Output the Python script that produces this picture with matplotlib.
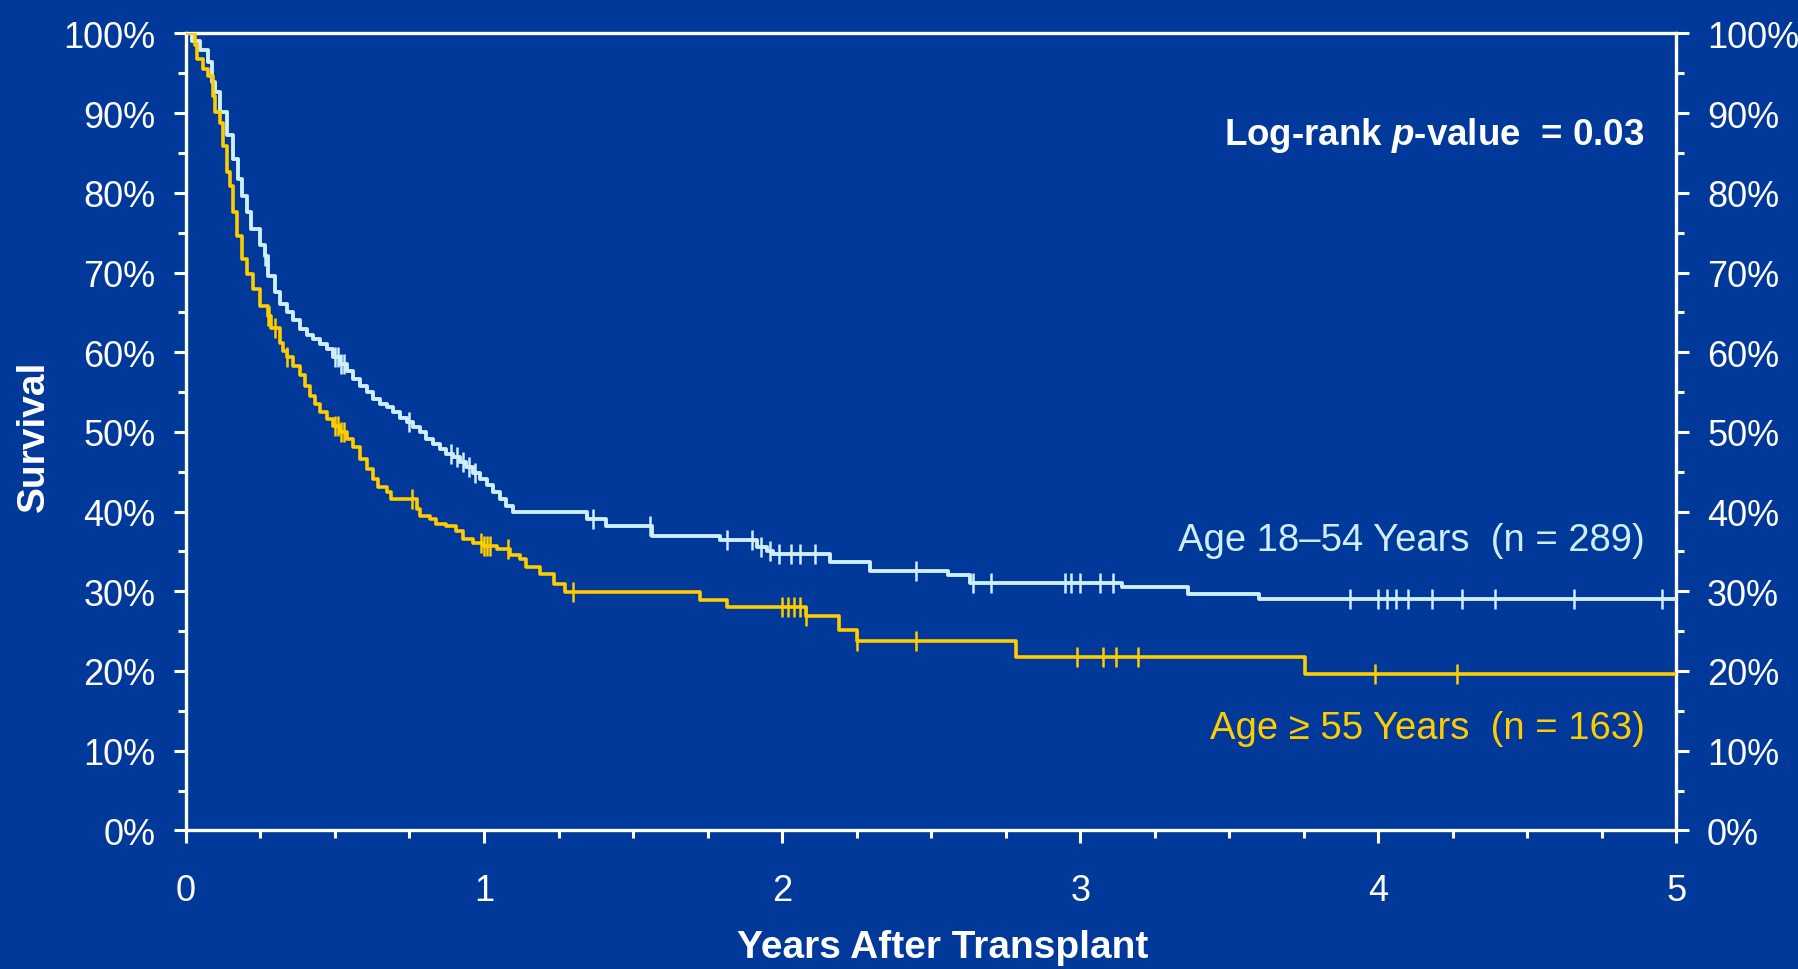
import numpy as np
import matplotlib.pyplot as plt
from matplotlib.ticker import MultipleLocator, FuncFormatter

# Kaplan-Meier survival (%) by age group: value after each drop (step "post")
young_t = [0, 0.02, 0.047, 0.075, 0.086, 0.097, 0.114, 0.137, 0.159, 0.175, 0.187,
           0.204, 0.220, 0.248, 0.265, 0.276, 0.299, 0.315, 0.338, 0.360, 0.382,
           0.405, 0.427, 0.449, 0.472, 0.494, 0.517, 0.539, 0.561, 0.584, 0.606,
           0.628, 0.651, 0.673, 0.695, 0.718, 0.740, 0.763, 0.785, 0.807, 0.830,
           0.852, 0.874, 0.897, 0.919, 0.941, 0.964, 0.986, 1.009, 1.031, 1.053,
           1.075, 1.098, 1.345, 1.41, 1.565, 1.79, 1.915, 1.95, 1.97, 2.16, 2.295,
           2.557, 2.63, 3.14, 3.36, 3.60]
young_s = [100, 99, 97.9, 96.4, 93.9, 92.6, 90.1, 87.2, 84.2, 81.7, 79.6,
           77.6, 75.5, 73.4, 72.1, 69.6, 67.5, 66.0, 65.0, 64.0, 62.9,
           62.1, 61.7, 61.0, 60.4, 59.4, 58.5, 57.7, 56.6, 55.8, 55.0,
           54.1, 53.5, 53.1, 52.5, 51.8, 51.2, 50.6, 50.0, 49.1, 48.5,
           47.9, 47.2, 46.8, 46.2, 45.6, 44.9, 44.1, 43.3, 42.4, 41.6,
           40.7, 40.0, 39.1, 38.2, 37.0, 36.4, 35.6, 35.0, 34.7, 33.7, 32.6,
           32.0, 31.1, 30.5, 29.7, 29.0]
young_cens = [0.265, 0.50, 0.51, 0.52, 0.53, 0.75, 0.89, 0.91, 0.93, 0.95, 0.97,
              1.364, 1.556, 1.814, 1.90, 1.93, 1.96, 1.99, 2.03, 2.06, 2.11, 2.45,
              2.64, 2.70, 2.95, 2.97, 3.0, 3.066, 3.11, 3.906, 4.0, 4.03, 4.06,
              4.1, 4.18, 4.28, 4.39, 4.655, 4.95]

old_t = [0, 0.03, 0.036, 0.058, 0.075, 0.092, 0.097, 0.114, 0.125, 0.137, 0.148,
         0.159, 0.170, 0.187, 0.204, 0.226, 0.248, 0.276, 0.287, 0.315, 0.326,
         0.338, 0.360, 0.382, 0.399, 0.416, 0.433, 0.449, 0.472, 0.494, 0.517,
         0.539, 0.561, 0.584, 0.606, 0.628, 0.645, 0.673, 0.689, 0.774, 0.785,
         0.818, 0.840, 0.874, 0.907, 0.930, 0.964, 0.997, 1.042, 1.087, 1.120,
         1.142, 1.187, 1.235, 1.27, 1.724, 1.814, 2.08, 2.19, 2.25, 2.786, 3.754]
old_s = [100, 98.5, 96.8, 95.5, 94.7, 92.2, 90.1, 88.8, 85.9, 82.6, 80.9,
         77.6, 74.6, 71.7, 69.8, 67.9, 65.8, 64.6, 63.1, 61.2, 60.2,
         59.4, 58.3, 57.1, 55.8, 54.5, 53.5, 52.5, 51.6, 50.8, 50.0,
         49.1, 48.1, 46.6, 45.4, 44.1, 43.1, 42.4, 41.6, 40.3, 39.5,
         39.1, 38.4, 38.2, 37.6, 36.6, 36.1, 35.7, 35.3, 34.5, 34.1,
         33.0, 32.2, 30.9, 29.9, 28.9, 28.0, 26.9, 25.1, 23.8, 21.7, 19.6]
old_cens = [0.276, 0.28, 0.30, 0.338, 0.50, 0.51, 0.52, 0.53, 0.76, 0.99, 1.0,
            1.01, 1.02, 1.08, 1.30, 2.0, 2.02, 2.04, 2.06, 2.08, 2.25, 2.45,
            2.988, 3.077, 3.12, 3.193, 3.99, 4.265]

young_label = 'Age 18\u201354 Years  (n = 289)'
old_label = 'Age \u2265 55 Years  (n = 163)'
pvalue_label = 'Log-rank $p$-value  = 0.03'

BG = '#00399a'
LIGHT = '#cdeefa'
GOLD = '#ffcc00'

plt.rcParams['font.family'] = ['Liberation Sans', 'DejaVu Sans']
plt.rcParams['mathtext.fontset'] = 'custom'
plt.rcParams['mathtext.it'] = 'Liberation Sans:italic:bold'
plt.rcParams['mathtext.rm'] = 'Liberation Sans:bold'


def surv_at(t_events, s_vals, t):
    idx = np.searchsorted(t_events, t, side='right') - 1
    return np.asarray(s_vals)[idx]


fig = plt.figure(figsize=(17.98, 9.70), dpi=100, facecolor=BG)
ax = fig.add_axes([0.1034, 0.1429, 0.829, 0.8216], facecolor=BG)

# survival curves, held flat out to 5 years
yt = np.append(young_t, 5.0)
ys = np.append(young_s, young_s[-1])
ot = np.append(old_t, 5.0)
os_ = np.append(old_s, old_s[-1])
ax.step(yt, ys, where='post', color=LIGHT, lw=2.8, zorder=3)
ax.step(ot, os_, where='post', color=GOLD, lw=2.6, zorder=4)

# censoring marks
ax.plot(young_cens, surv_at(young_t, young_s, young_cens), ls='none', marker='|',
        ms=14, mew=1.8, color=LIGHT, zorder=3)
ax.plot(old_cens, surv_at(old_t, old_s, old_cens), ls='none', marker='|',
        ms=14, mew=1.8, color=GOLD, zorder=4)

ax.set_xlim(0, 5)
ax.set_ylim(0, 100)
for sp in ax.spines.values():
    sp.set_color('white')
    sp.set_linewidth(2.4)

ax.xaxis.set_major_locator(MultipleLocator(1))
ax.xaxis.set_minor_locator(MultipleLocator(0.25))
ax.yaxis.set_major_locator(MultipleLocator(10))
ax.yaxis.set_minor_locator(MultipleLocator(5))
ax.yaxis.set_major_formatter(FuncFormatter(lambda v, p: f'{int(round(v))}%'))

ax.tick_params(axis='both', which='both', direction='out', colors='white', width=2.2)
ax.tick_params(axis='y', which='major', length=9, labelsize=26, pad=13,
               left=True, right=True, labelleft=True, labelright=True)
ax.tick_params(axis='y', which='minor', length=6, left=True, right=True)
ax.tick_params(axis='x', which='major', length=9, labelsize=26, pad=22)
ax.tick_params(axis='x', which='minor', length=6)

ax.text(0.9785, 0.873, pvalue_label, transform=ax.transAxes, ha='right', va='center',
        fontsize=26.5, fontweight='bold', color='white')
ax.text(0.9785, 0.364, young_label, transform=ax.transAxes, ha='right', va='center',
        fontsize=27.5, color=LIGHT)
ax.text(0.9785, 0.129, old_label, transform=ax.transAxes, ha='right', va='center',
        fontsize=27.5, color=GOLD)

fig.text(943 / 1798, 12 / 970, 'Years After Transplant', ha='center', va='baseline',
         fontsize=28, fontweight='bold', color='white')
fig.text(34 / 1798, 1 - 436 / 970, 'Survival', ha='center', va='center', rotation=90,
         fontsize=28, fontweight='bold', color='white')

fig.savefig('out.png', dpi=100, facecolor=BG)
